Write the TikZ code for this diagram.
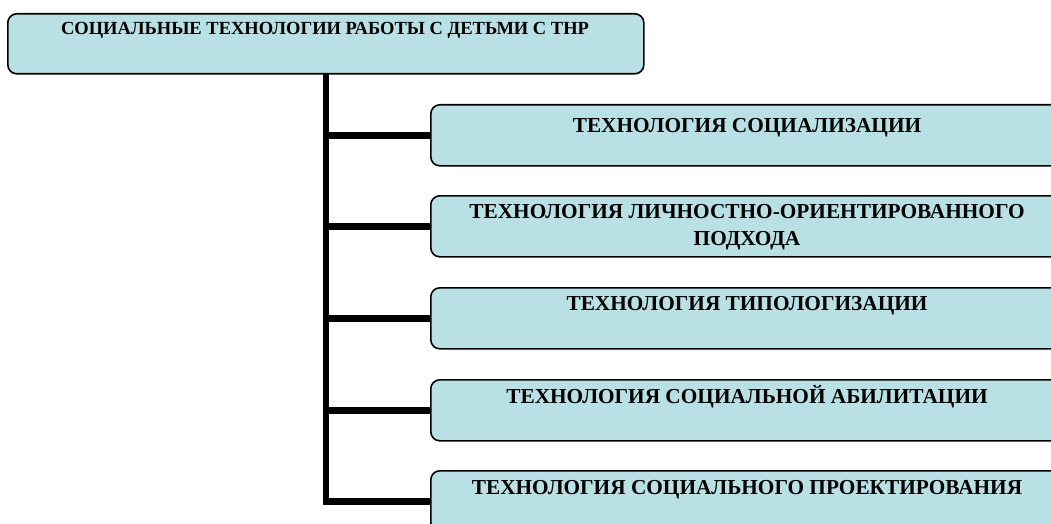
\documentclass[tikz,border=0pt]{standalone}
\usepackage{fontspec}
\setmainfont{Liberation Serif}
\definecolor{boxfill}{RGB}{185,224,228}
\tikzset{
  boxbase/.style={draw=black, line width=1.6pt, fill=boxfill, rounded corners=9pt, rectangle, inner sep=0pt, anchor=north west},
  topbox/.style={boxbase, minimum width=636pt, minimum height=60pt},
  techbox/.style={boxbase, minimum width=640pt, minimum height=61pt},
  toptext/.style={font=\fontsize{18.5}{20}\selectfont\bfseries, anchor=base, inner sep=0pt},
  techtext/.style={font=\fontsize{21.3}{27}\selectfont\bfseries, align=center, anchor=center, inner sep=0pt},
  conn/.style={draw=black, line width=6.5pt, line join=miter}
}
\begin{document}
\begin{tikzpicture}[x=1pt,y=-1pt]
\useasboundingbox (0,0) rectangle (1051,524);
\clip (0,0) rectangle (1051,524);
\node[topbox] (top) at (7,13) {};
\node[toptext] (toptxt) at (325,35) {СОЦИАЛЬНЫЕ ТЕХНОЛОГИИ РАБОТЫ С ДЕТЬМИ С ТНР};
\node[techbox] (b1) at (430,104) {};
\node[techbox] (b2) at (430,195) {};
\node[techbox] (b3) at (430,287) {};
\node[techbox] (b4) at (430,379) {};
\node[techbox] (b5) at (430,470) {};
\node[techtext] (t1) at (747,128) {ТЕХНОЛОГИЯ СОЦИАЛИЗАЦИИ};
\node[techtext] (t2) at (747,227) {ТЕХНОЛОГИЯ ЛИЧНОСТНО-ОРИЕНТИРОВАННОГО\\ПОДХОДА};
\node[techtext] (t3) at (747,306) {ТЕХНОЛОГИЯ ТИПОЛОГИЗАЦИИ};
\node[techtext] (t4) at (747,397) {ТЕХНОЛОГИЯ СОЦИАЛЬНОЙ АБИЛИТАЦИИ};
\node[techtext] (t5) at (747,490) {ТЕХНОЛОГИЯ СОЦИАЛЬНОГО ПРОЕКТИРОВАНИЯ};
\coordinate (trunk) at ([yshift=0.8pt]top.south);
\draw[conn] (trunk) |- (b5.west);
\draw[conn] (trunk |- b1.west) -- (b1.west);
\draw[conn] (trunk |- b2.west) -- (b2.west);
\draw[conn] (trunk |- b3.west) -- (b3.west);
\draw[conn] (trunk |- b4.west) -- (b4.west);
\end{tikzpicture}
\end{document}
